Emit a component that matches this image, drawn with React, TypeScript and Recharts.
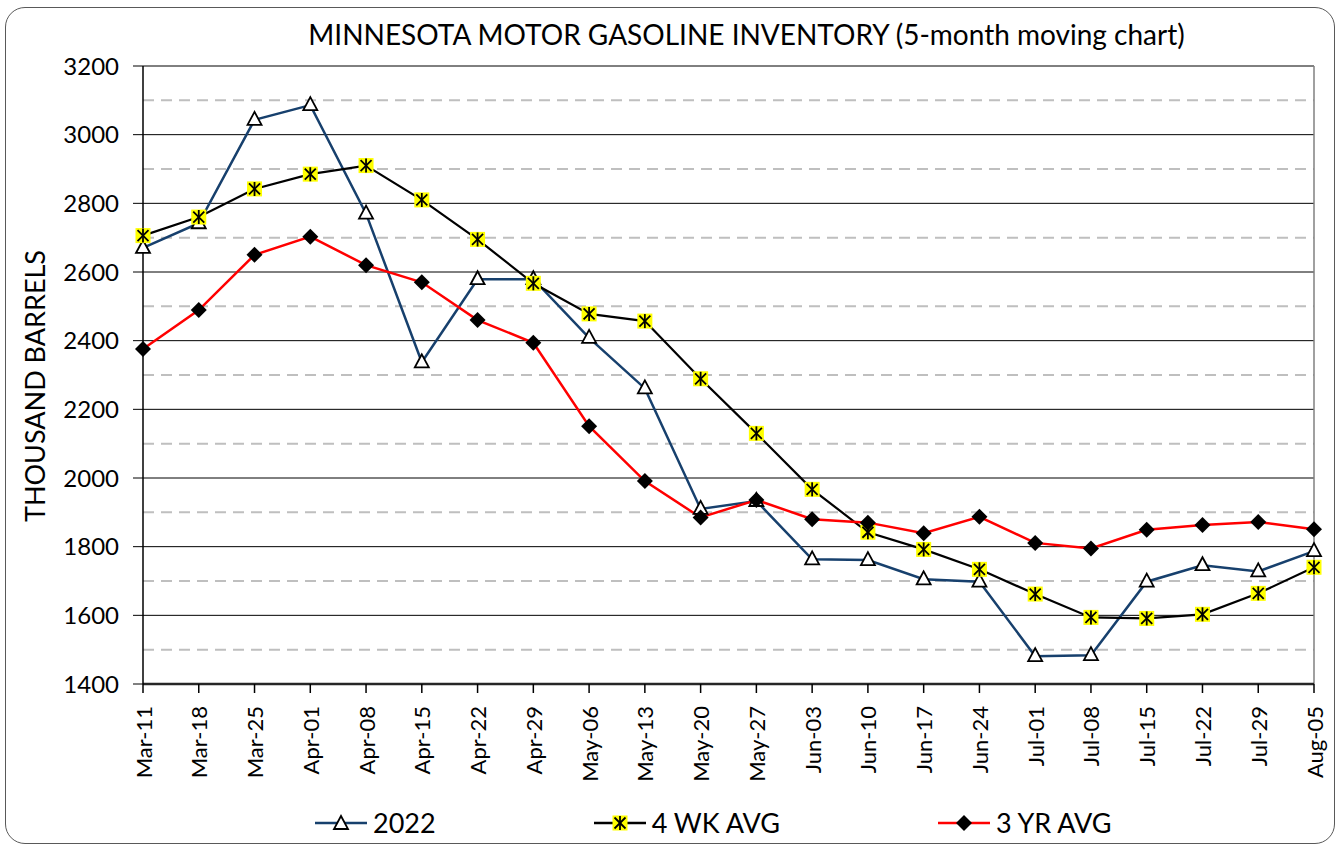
import React from "react";
import { LineChart, Line, XAxis, YAxis, CartesianGrid, ReferenceLine } from "recharts";

const dates = ["Mar-11","Mar-18","Mar-25","Apr-01","Apr-08","Apr-15","Apr-22","Apr-29","May-06","May-13","May-20","May-27","Jun-03","Jun-10","Jun-17","Jun-24","Jul-01","Jul-08","Jul-15","Jul-22","Jul-29","Aug-05"];
const y2022 = [2670,2742,3043,3086,2770,2337,2579,2579,2408,2261,1910,1933,1763,1761,1705,1698,1481,1484,1698,1746,1728,1787];
const avg4wk = [2706,2760,2842,2885,2910,2810,2695,2567,2478,2457,2289,2130,1967,1842,1792,1734,1662,1594,1591,1603,1664,1740];
const avg3yr = [2376,2489,2650,2703,2620,2570,2460,2394,2151,1991,1885,1936,1880,1870,1839,1887,1811,1795,1849,1863,1872,1851];
const yTicks = [1400,1600,1800,2000,2200,2400,2600,2800,3000,3200];
const dashedLevels = [1500,1700,1900,2100,2300,2500,2700,2900,3100];

const title = "MINNESOTA MOTOR GASOLINE INVENTORY (5-month moving chart)";
const yLabel = "THOUSAND BARRELS";

const data = dates.map((d, i) => ({ date: d, s2022: y2022[i], wk4: avg4wk[i], yr3: avg3yr[i] }));

const FONT = "Lato, 'Noto Sans', sans-serif";

const Triangle = (props: any) => {
  const { cx, cy, key } = props;
  if (cx == null || cy == null) return null;
  return <polygon key={key} points={`${cx},${cy - 8} ${cx - 7},${cy + 5} ${cx + 7},${cy + 5}`} fill="#fff" stroke="#000" strokeWidth={1.8} strokeLinejoin="miter" />;
};

const Star = (props: any) => {
  const { cx, cy, key } = props;
  if (cx == null || cy == null) return null;
  return (
    <g key={key}>
      <rect x={cx - 7.5} y={cy - 7.5} width={15} height={15} fill="#FFFF00" />
      <line x1={cx} y1={cy - 7} x2={cx} y2={cy + 7} stroke="#000" strokeWidth={1.8} />
      <line x1={cx - 5.5} y1={cy - 5.5} x2={cx + 5.5} y2={cy + 5.5} stroke="#000" strokeWidth={1.8} />
      <line x1={cx - 5.5} y1={cy + 5.5} x2={cx + 5.5} y2={cy - 5.5} stroke="#000" strokeWidth={1.8} />
    </g>
  );
};

const Diamond = (props: any) => {
  const { cx, cy, key } = props;
  if (cx == null || cy == null) return null;
  return <polygon key={key} points={`${cx},${cy - 8} ${cx + 8},${cy} ${cx},${cy + 8} ${cx - 8},${cy}`} fill="#000" />;
};

const XTick = (props: any) => {
  const { x, y, payload } = props;
  return (
    <text x={x} y={y + 11} transform={`rotate(-90, ${x}, ${y + 11})`} textAnchor="end" dominantBaseline="central" fontSize={22} fontFamily={FONT} fill="#000">
      {payload.value}
    </text>
  );
};

const legendItems = [
  { label: "2022", color: "#17406D", marker: "tri" },
  { label: "4 WK AVG", color: "#000", marker: "star" },
  { label: "3 YR AVG", color: "#FF0000", marker: "dia" },
];

const LegendIcon = ({ color, marker }: { color: string; marker: string }) => (
  <svg width={52} height={20} style={{ display: "block" }}>
    <line x1={0} y1={10} x2={52} y2={10} stroke={color} strokeWidth={2.5} />
    {marker === "tri" && <Triangle cx={26} cy={11} />}
    {marker === "star" && <Star cx={26} cy={10} />}
    {marker === "dia" && <Diamond cx={26} cy={10} />}
  </svg>
);

export default function App() {
  return (
    <div style={{ position: "absolute", left: 0, top: 0, width: 1341, height: 848, background: "#fff", fontFamily: FONT }}>
      <div style={{ position: "absolute", left: 5, top: 7, width: 1330, height: 837, border: "1px solid #595959", borderRadius: 20, boxSizing: "border-box" }} />
      <div style={{ position: "absolute", left: 0, top: 17, width: 1493, textAlign: "center", fontSize: 28, lineHeight: "34px", color: "#000", whiteSpace: "nowrap" }}>
        {title}
      </div>
      <div style={{ position: "absolute", left: 35 - 200, top: 386 - 18, width: 400, height: 36, lineHeight: "36px", textAlign: "center", fontSize: 27, color: "#000", transform: "rotate(-90deg)", whiteSpace: "nowrap" }}>
        {yLabel}
      </div>
      <div style={{ position: "absolute", left: 0, top: 0 }}>
        <LineChart width={1341} height={848} data={data} margin={{ top: 66, right: 27, bottom: 64, left: 70 }}>
          <CartesianGrid vertical={false} stroke="#000" strokeWidth={1} />
          {dashedLevels.map((v) => (
            <ReferenceLine key={v} y={v} stroke="#BFBFBF" strokeWidth={2} strokeDasharray="11 7" />
          ))}
          <ReferenceLine x="Aug-05" stroke="#808080" strokeWidth={1.5} />
          <XAxis dataKey="date" interval={0} height={100} tick={<XTick />} tickSize={9} tickLine={{ stroke: "#000", strokeWidth: 1.5 }} axisLine={{ stroke: "#262626", strokeWidth: 2.5 }} />
          <YAxis type="number" domain={[1400, 3200]} ticks={yTicks} width={73} tickSize={10} tickMargin={14} tickLine={{ stroke: "#000" }} axisLine={{ stroke: "#000", strokeWidth: 1.5 }} tick={{ fontSize: 24, fill: "#000", fontFamily: FONT }} allowDataOverflow />
          <Line dataKey="s2022" stroke="#17406D" strokeWidth={2.5} dot={Triangle} activeDot={false} isAnimationActive={false} />
          <Line dataKey="wk4" stroke="#000" strokeWidth={2.2} dot={Star} activeDot={false} isAnimationActive={false} />
          <Line dataKey="yr3" stroke="#FF0000" strokeWidth={2.5} dot={Diamond} activeDot={false} isAnimationActive={false} />
        </LineChart>
      </div>
      <div style={{ position: "absolute", left: 315, top: 806, display: "flex", alignItems: "center", gap: 158 }}>
        {legendItems.map((it) => (
          <div key={it.label} style={{ display: "flex", alignItems: "center" }}>
            <LegendIcon color={it.color} marker={it.marker} />
            <span style={{ marginLeft: 6, fontSize: 27, lineHeight: "34px", color: "#000", whiteSpace: "nowrap" }}>{it.label}</span>
          </div>
        ))}
      </div>
    </div>
  );
}
